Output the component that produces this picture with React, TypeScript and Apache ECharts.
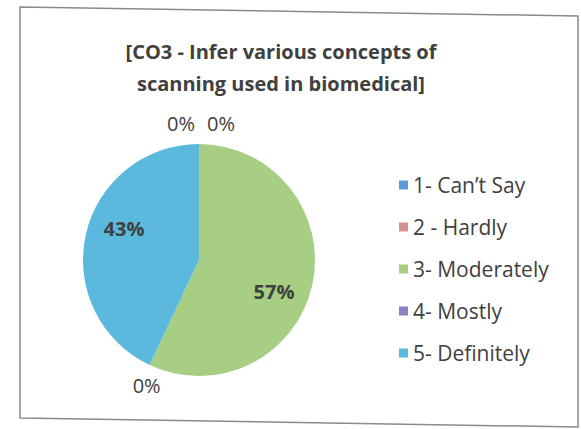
import React, { useEffect, useRef } from "react";
import * as echarts from "echarts";

const categories = ["1- Can\u2019t Say", "2 - Hardly", "3- Moderately", "4- Mostly", "5- Definitely"];
const values = [0, 0, 57, 0, 43];
const colors = ["#5b9bd5", "#d4908e", "#a6cf84", "#8b80c4", "#5ab9dd"];
const titleText = "[CO3 - Infer various concepts of\nscanning used in biomedical]";

const CX = 199;
const CY = 260;
const R = 116;

export default function App() {
  const ref = useRef<HTMLDivElement>(null);
  useEffect(() => {
    if (!ref.current) return;
    const chart = echarts.init(ref.current, null, { renderer: "svg" });
    const total = values.reduce((a, b) => a + b, 0);
    const starts: number[] = [];
    let acc = 0;
    values.forEach((v) => {
      starts.push(acc);
      acc += v;
    });
    const zeroShiftX = [-18, 22, 0, 6, 0];

    chart.setOption({
      animation: false,
      backgroundColor: "#ffffff",
      title: {
        text: titleText,
        left: 276,
        top: 30,
        textAlign: "center",
        textStyle: {
          fontFamily: "Open Sans",
          fontSize: 20,
          fontWeight: "bold",
          color: "#404040",
          lineHeight: 32,
          align: "center",
        },
      },
      legend: {
        orient: "vertical",
        left: 394,
        top: 168,
        itemWidth: 9,
        itemHeight: 9,
        itemGap: 18,
        icon: "rect",
        data: categories,
        textStyle: {
          fontFamily: "Open Sans",
          fontSize: 21,
          color: "#404040",
          lineHeight: 24,
        },
      },
      graphic: [
        {
          type: "polygon",
          shape: {
            points: [
              [20, 7],
              [578, 16],
              [578, 427],
              [20, 418],
            ],
          },
          style: { fill: "none", stroke: "#8a8a8a", lineWidth: 1.5 },
          z: -1,
        },
      ],
      series: [
        {
          type: "pie",
          center: [CX, CY],
          radius: R,
          startAngle: 90,
          clockwise: true,
          avoidLabelOverlap: false,
          data: categories.map((name, i) => ({
            name,
            value: values[i],
            itemStyle: { color: colors[i] },
            label:
              values[i] === 0
                ? { fontWeight: "normal" }
                : { fontWeight: "bold" },
          })),
          label: {
            show: true,
            position: "inside",
            formatter: (p: any) => Math.round(p.percent) + "%",
            fontFamily: "Open Sans",
            fontSize: 20,
            color: "#404040",
          },
          labelLine: { show: false },
          labelLayout: (p: any) => {
            const i = p.dataIndex;
            const v = values[i];
            let ang: number;
            let rad: number;
            if (v === 0) {
              ang = (starts[i] / total) * 2 * Math.PI;
              rad = R + 21;
            } else {
              ang = ((starts[i] + v / 2) / total) * 2 * Math.PI + (10 * Math.PI) / 180;
              rad = R * 0.7;
            }
            return {
              x: CX + rad * Math.sin(ang) + zeroShiftX[i],
              y: CY - rad * Math.cos(ang) + (v === 0 && starts[i] > 0 ? 2 : 0),
              align: "center",
              verticalAlign: "middle",
            };
          },
        },
      ],
    });
    return () => chart.dispose();
  }, []);
  return (
    <div
      ref={ref}
      style={{ position: "fixed", left: 0, top: 0, width: 581, height: 429 }}
    />
  );
}
